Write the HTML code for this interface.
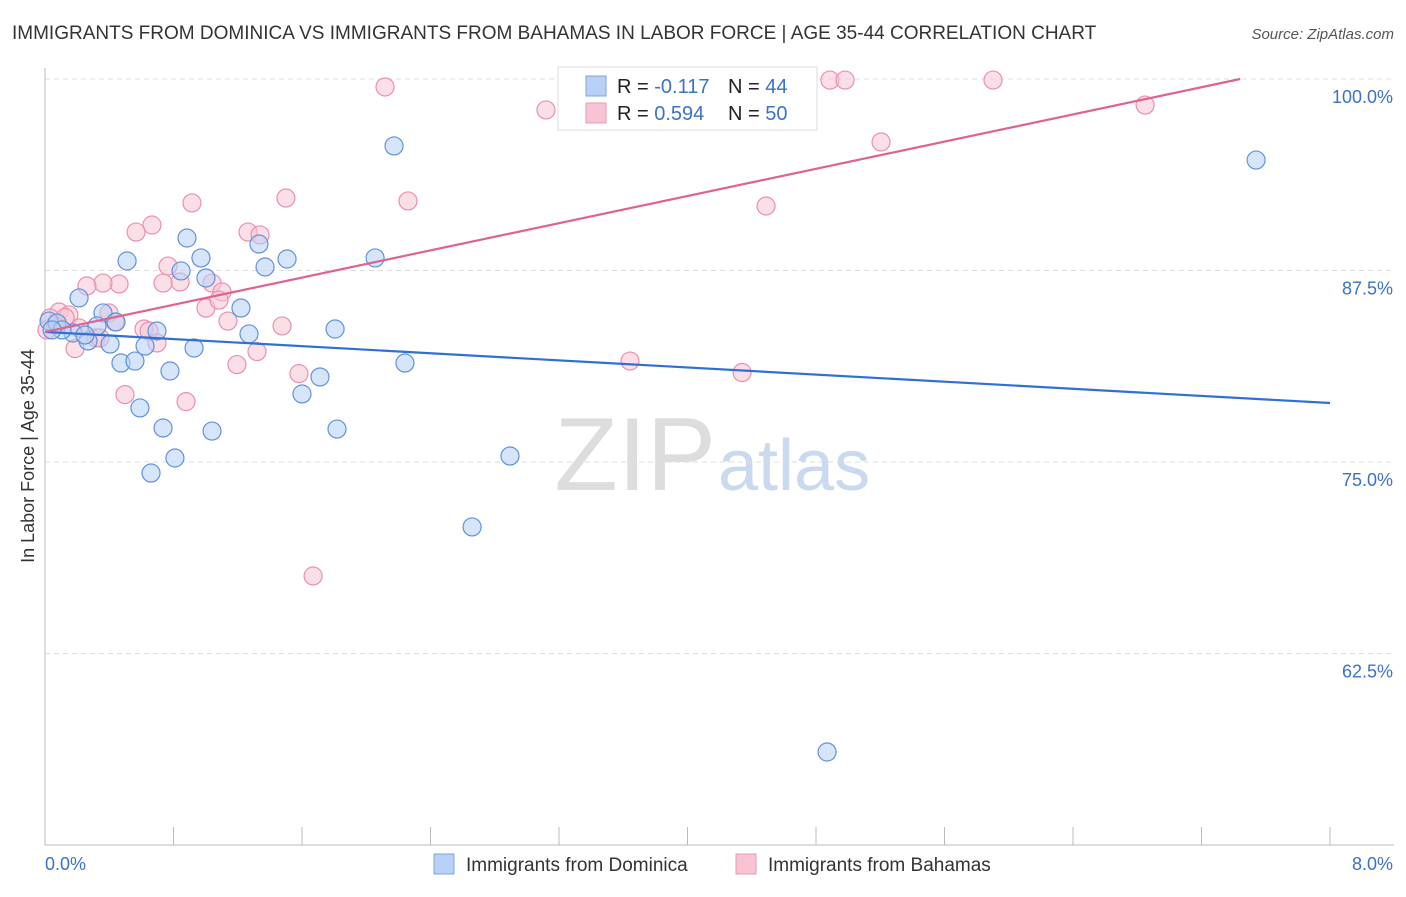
<!DOCTYPE html>
<html><head><meta charset="utf-8"><style>
body{margin:0;background:#fff;font-family:"Liberation Sans",sans-serif}
svg text{font-family:"Liberation Sans",sans-serif}
</style></head><body>
<svg id="chart" width="1406" height="892" xmlns="http://www.w3.org/2000/svg">
<text x="12" y="39" font-size="19" fill="#333">IMMIGRANTS FROM DOMINICA VS IMMIGRANTS FROM BAHAMAS IN LABOR FORCE | AGE 35-44 CORRELATION CHART</text>
<text x="1394" y="39" font-size="15" fill="#555" text-anchor="end" font-style="italic">Source: ZipAtlas.com</text>
<text x="716" y="490" font-size="104" fill="#ddd" text-anchor="end" font-family="Liberation Serif">ZIP</text>
<text x="718" y="490" font-size="72" fill="#c9d9ef">atlas</text>
<g id="grid"></g><g id="axes"></g><g id="dots"></g><g id="trends"></g>
<g>
<rect x="558" y="67" width="259" height="63" fill="#fff" stroke="#ddd"/>
<rect x="586" y="76" width="20" height="20" fill="#b7d0f5" stroke="#7ea6e0"/>
<rect x="586" y="103" width="20" height="20" fill="#f8c4d4" stroke="#eb9ab4"/>
<text x="617" y="93" font-size="20" fill="#222">R = <tspan fill="#3a72c8">-0.117</tspan></text>
<text x="728" y="93" font-size="20" fill="#222">N = <tspan fill="#3a72c8">44</tspan></text>
<text x="617" y="120" font-size="20" fill="#222">R = <tspan fill="#3a72c8">0.594</tspan></text>
<text x="728" y="120" font-size="20" fill="#222">N = <tspan fill="#3a72c8">50</tspan></text>
</g>
<g>
<rect x="434" y="854" width="20" height="20" fill="#b7d0f5" stroke="#7ea6e0"/>
<text x="466" y="871" font-size="19" fill="#333">Immigrants from Dominica</text>
<rect x="736" y="854" width="20" height="20" fill="#f8c4d4" stroke="#eb9ab4"/>
<text x="768" y="871" font-size="19" fill="#333">Immigrants from Bahamas</text>
</g>
<text transform="translate(34,456) rotate(-90)" font-size="18" fill="#333" text-anchor="middle">In Labor Force | Age 35-44</text>
</svg>
<script>
const yTicks=[100,87.5,75,62.5];
const yTickLabels=["100.0%","87.5%","75.0%","62.5%"];
const xTickLabels=["0.0%","8.0%"];
const domX=[2.173,7.54,0.884,0.971,1.332,0.511,1.507,1.370,0.847,1.002,2.055,0.212,1.220,0.361,0.442,0.324,0.025,0.075,0.174,0.697,1.270,1.806,0.268,0.405,0.623,0.928,0.473,0.560,2.241,0.778,1.712,1.600,0.591,0.735,1.040,1.818,0.809,0.660,2.895,2.659,4.869,0.106,0.044,0.249];
const domY=[95.63,94.71,89.62,88.32,89.23,88.12,88.25,87.73,87.47,87.01,88.32,85.71,85.05,84.73,84.14,83.88,84.20,84.07,83.42,83.55,83.36,83.68,82.90,82.70,82.57,82.44,81.46,81.59,81.46,80.94,80.55,79.44,78.53,77.22,77.02,77.15,75.26,74.28,75.39,70.76,56.07,83.62,83.62,83.29];
const bahX=[2.117,3.119,4.887,4.981,5.902,6.849,5.205,4.489,2.260,1.500,0.915,0.666,0.567,1.264,1.339,0.766,0.841,0.735,0.461,0.361,0.261,1.040,1.102,1.002,1.083,0.398,0.087,0.149,1.139,1.476,0.616,0.648,0.697,0.212,0.318,0.187,1.320,1.195,3.642,4.340,1.581,0.498,0.878,1.669,0.031,0.062,0.012,0.125,0.342,0.436];
const bahY=[99.48,97.98,99.93,99.93,99.93,98.30,95.89,91.71,92.04,92.23,91.91,90.47,90.01,90.01,89.82,87.79,86.75,86.68,86.62,86.68,86.49,86.68,86.10,85.05,85.57,84.73,84.79,84.60,84.20,83.88,83.68,83.55,82.77,83.75,83.10,82.40,82.21,81.36,81.59,80.84,80.77,79.40,78.94,67.56,84.40,83.94,83.62,84.43,83.10,84.14];
const domTrend=[83.49,78.85];
const bahTrend=[83.49,101.24];
const X=v=>45+v/8*1285;
const Y=v=>79+(100-v)/12.5*191.5;
const NS="http://www.w3.org/2000/svg";
function mk(tag,attrs,parent){const e=document.createElementNS(NS,tag);for(const k in attrs)e.setAttribute(k,attrs[k]);document.getElementById(parent).appendChild(e);return e;}
yTicks.forEach((t,i)=>{
 const g=mk('line',{x1:45,x2:1394,y1:Y(t),y2:Y(t),stroke:'#ddd','stroke-dasharray':'5,4'},'grid');
 
 
 const l=mk('text',{x:1393,y:Y(t)+24,'font-size':18,fill:'#3a72c8','text-anchor':'end'},'axes');
 l.textContent=yTickLabels[i];
 
 
});
let a=mk('line',{x1:45,x2:45,y1:68,y2:845,stroke:'#bbb'},'axes');


a=mk('line',{x1:45,x2:1394,y1:845,y2:845,stroke:'#bbb'},'axes');


for(let i=0;i<=10;i++){
 const t=mk('line',{x1:X(i*0.8),x2:X(i*0.8),y1:827,y2:845,stroke:'#bbb'},'axes');
 
 
}
[[0,45,'start'],[8,1393,'end']].forEach((d,i)=>{
 const l=mk('text',{x:d[1],y:870,'font-size':18,fill:'#3a72c8','text-anchor':d[2]},'axes');
 l.textContent=xTickLabels[i];
 
 
});
function dots(xs,ys,fill,stroke,name){xs.forEach((x,i)=>{
 const c=mk('circle',{cx:X(x),cy:Y(ys[i]),r:9,fill:fill,'fill-opacity':0.55,stroke:stroke,'stroke-width':1.2},'dots');
 
 
});}
dots(bahX,bahY,'#f8c4d4','#eb8fae','bahamas-point');
dots(domX,domY,'#b7d0f5','#5f92dc','dominica-point');
let tl=mk('line',{x1:X(0),y1:Y(domTrend[0]),x2:X(8),y2:Y(domTrend[1]),stroke:'#2f6fd6','stroke-width':2.2},'trends');


const xe=8*(100-bahTrend[0])/(bahTrend[1]-bahTrend[0]);
tl=mk('line',{x1:X(0),y1:Y(bahTrend[0]),x2:X(xe),y2:Y(100),stroke:'#e0628f','stroke-width':2.2},'trends');


</script>
</body></html>
